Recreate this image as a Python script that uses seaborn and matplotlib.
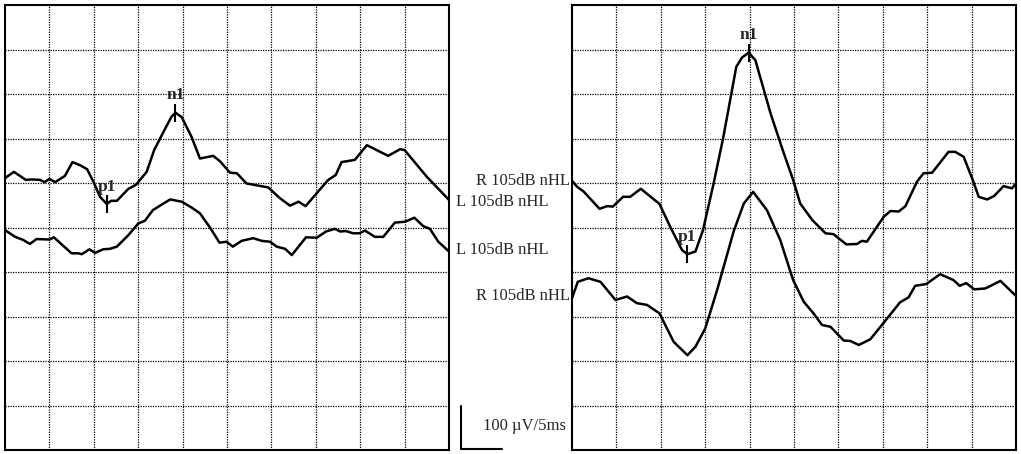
import numpy as np
import pandas as pd
import seaborn as sns
import matplotlib
matplotlib.use("Agg")
import matplotlib.pyplot as plt
from matplotlib.lines import Line2D

# left panel, upper trace (L 105dB nHL) - time in ms, amplitude in uV (screen position)
lu_ms = [0, 1.0, 2.35, 3.0, 3.95, 4.45, 5.0, 5.65, 6.75, 7.6, 8.45, 9.25, 9.95, 10.7, 11.45,
         11.95, 12.6, 13.9, 14.75, 15.95, 16.8, 17.85, 18.75, 19.2, 19.9, 21.0, 21.95, 23.45, 24.2,
         25.35, 26.1, 27.2, 29.65, 30.95, 32.1, 33.05, 33.85, 35.1, 36.4, 37.25, 37.9, 39.4, 40.75,
         43.15, 44.5, 45.0, 47.5, 50.0]
lu_uv = [611, 625, 607, 608, 607, 602, 609, 602, 616, 647, 640, 631, 603, 569, 553,
         560, 560, 587, 596, 625, 674, 715, 749, 758, 748, 704, 655, 661, 649,
         623, 622, 599, 590, 566, 549, 558, 548, 577, 607, 618, 647, 652, 685,
         661, 676, 674, 614, 562]

# left panel, lower trace
ll_ms = [0, 1.15, 2.05, 2.8, 3.55, 5.05, 5.5, 6.55, 7.5, 8.25, 8.65, 9.5, 10.15, 11.05, 11.8,
         12.6, 13.9, 15.0, 15.75, 16.65, 17.85, 18.6, 19.9, 21.0, 21.95, 23.15, 24.15, 24.95, 25.65,
         26.65, 27.95, 28.9, 29.85, 30.6, 31.55, 32.3, 33.9, 35.1, 36.15, 37.15, 37.75, 38.4, 39.2,
         39.9, 40.55, 41.65, 42.6, 43.9, 45.05, 46.1, 47.1, 47.85, 48.8, 50.0]
ll_uv = [494, 479, 472, 463, 474, 473, 478, 459, 442, 442, 440, 451, 443, 451, 452,
         457, 483, 509, 515, 539, 554, 563, 558, 545, 532, 498, 466, 468, 457,
         470, 476, 470, 468, 457, 452, 438, 478, 477, 491, 497, 491, 492, 487,
         487, 493, 479, 479, 511, 513, 522, 503, 497, 468, 446]

# right panel, upper trace (R 105dB nHL)
ru_ms = [0, 0.55, 1.3, 3.1, 3.95, 4.6, 5.75, 6.55, 7.75, 9.85, 11.05, 12.4, 13.0, 13.9, 14.75,
         15.95, 17.05, 18.5, 19.15, 19.9, 20.65, 22.35, 23.85, 24.9, 25.7, 27.05, 28.55, 29.45, 30.9,
         32.1, 32.65, 33.2, 35.1, 35.85, 36.8, 37.55, 38.85, 39.6, 40.55, 42.4, 43.15, 44.1, 45.05,
         45.8, 46.75, 47.55, 48.6, 49.55, 50.0]
ru_uv = [605, 592, 581, 542, 548, 547, 569, 569, 587, 553, 502, 449, 440, 446, 494,
         599, 704, 861, 882, 893, 876, 757, 667, 607, 554, 517, 487, 485, 462,
         463, 470, 468, 524, 537, 536, 548, 603, 622, 623, 670, 670, 659, 611,
         569, 563, 571, 593, 588, 599]

# right panel, lower trace
rl_ms = [0, 0.65, 1.85, 3.2, 4.9, 6.2, 7.3, 8.45, 9.85, 11.45, 13.0, 13.9, 15.0, 16.35, 18.2,
         19.35, 20.4, 21.95, 23.45, 24.9, 26.1, 27.2, 28.15, 29.1, 30.6, 31.35, 32.3, 33.6, 34.9,
         36.95, 37.9, 38.65, 39.9, 41.45, 42.95, 43.65, 44.4, 45.3, 46.55, 48.25, 50.0]
rl_uv = [341, 378, 386, 378, 337, 345, 330, 326, 307, 243, 213, 232, 273, 360, 491,
         554, 580, 539, 472, 382, 333, 307, 281, 277, 246, 245, 236, 249, 281,
         332, 343, 369, 373, 395, 382, 369, 375, 361, 363, 380, 346]

# peak latencies (ms) marked on the upper traces
peak_names = ["p1", "n1"]
left_peaks = [11.45, 19.2]
right_peaks = [13.0, 19.9]

trace_label_l = "L 105dB nHL"
trace_label_r = "R 105dB nHL"
scale_label = "100 \u00b5V/5ms"

sns.set_style("white")
plt.rcParams["font.family"] = ["Liberation Serif", "DejaVu Serif"]

W, H = 1021, 454
fig = plt.figure(figsize=(W / 100, H / 100), dpi=100)


def px_axes(x0, y0, x1, y1):
    return fig.add_axes([x0 / W, 1 - y1 / H, (x1 - x0) / W, (y1 - y0) / H])


ax_l = px_axes(5, 5, 449, 450)
ax_r = px_axes(572, 5, 1016, 450)


def draw_panel(ax, traces, peaks, trace_ms, trace_uv):
    for ms, uv in traces:
        df = pd.DataFrame({"ms": ms, "uv": uv})
        sns.lineplot(data=df, x="ms", y="uv", ax=ax, color="black", lw=1.8,
                     estimator=None, sort=False)
    ax.set_xlim(0, 50)
    ax.set_ylim(0, 1000)
    ax.set_xticks(np.arange(5, 50, 5))
    ax.set_yticks(np.arange(100, 1000, 100))
    ax.grid(True, color="black", linestyle=(0, (1, 1)), lw=0.9)
    ax.tick_params(length=0, labelbottom=False, labelleft=False)
    ax.set_xlabel("")
    ax.set_ylabel("")
    for s in ax.spines.values():
        s.set_visible(True)
        s.set_color("black")
        s.set_linewidth(1.5)
    for name, lat in zip(peak_names, peaks):
        v = np.interp(lat, trace_ms, trace_uv)
        ax.plot([lat], [v], marker="|", ms=13, mew=1.5, color="black")
        ax.annotate(name, (lat, v), xytext=(0, 12.5), textcoords="offset points",
                    ha="center", va="center", fontsize=12.5, fontweight="bold")


draw_panel(ax_l, [(lu_ms, lu_uv), (ll_ms, ll_uv)], left_peaks, lu_ms, lu_uv)
draw_panel(ax_r, [(ru_ms, ru_uv), (rl_ms, rl_uv)], right_peaks, ru_ms, ru_uv)


def ftext(x, y, s, **kw):
    fig.text(x / W, 1 - y / H, s, fontsize=12, va="center", **kw)


ftext(456, 202, trace_label_l, ha="left")
ftext(456, 250, trace_label_l, ha="left")
ftext(570, 181, trace_label_r, ha="right")
ftext(570, 296, trace_label_r, ha="right")

# scale bar (1 division each way)
fig.add_artist(Line2D([460.7 / W, 460.7 / W, 501.7 / W],
                      [1 - 406 / H, 1 - 449 / H, 1 - 449 / H],
                      color="black", lw=1.5))
ftext(483, 426, scale_label, ha="left")

fig.savefig("out.png", dpi=100)
